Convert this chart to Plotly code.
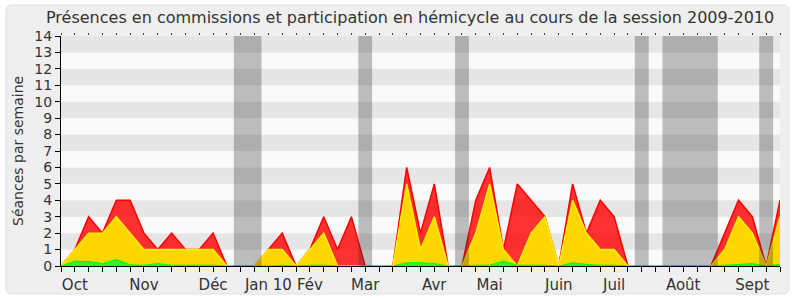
import plotly.graph_objects as go

# ---- data (weekly, session 2009-2010) ----
weeks = list(range(53))
hemicycle_total = [0,1,3,2,4,4,2,1,2,1,1,2,0,0,0,1,2,0,1,3,1,3,0,0,0,6,2,5,0,0,
                   4,6,1,5,4,3,0,5,2,4,3,0,0,0,0,0,0,0,2,4,3,0,4]
commissions = [0,1,2,2,3,2,1,1,1,1,1,1,0,0,0,1,1,0,1,2,0,0,0,0,0,5,1,3,0,0,
               2,5,1,0,2,3,0,4,2,1,1,0,0,0,0,0,0,0,1,3,2,0,3]
interventions = [0,0.3,0.27,0.15,0.4,0.08,0.05,0.15,0.05,0.05,0.05,0.05,0,0,0,0,0.05,0,0.05,0.05,
                 0,0,0,0,0,0.2,0.2,0.15,0,0,0.05,0.05,0.3,0.05,0.05,0.05,0,0.2,0.1,0.05,
                 0.05,0,0,0,0,0,0,0,0.05,0.1,0.15,0,0.1]
month_weeks = [1,6,11,15,18,22,27,31,36,40,45,50]
month_labels = ["Oct","Nov","Déc","Jan 10","Fév","Mar","Avr","Mai","Juin","Juil","Août","Sept"]
holidays = [(12.5,14.5),(21.5,22.5),(28.5,29.5),(41.5,42.5),(43.5,47.5),(50.5,51.5)]

FONT = "DejaVu Sans"
L, R, T, B = 61, 780, 36, 266
W, H = 800, 300

fig = go.Figure()
fig.add_trace(go.Scatter(x=weeks, y=hemicycle_total, mode="lines", fill="tozeroy",
                         line=dict(color="#ff0000", width=1.5), fillcolor="rgba(255,0,0,0.8)",
                         hoverinfo="skip", showlegend=False))
fig.add_trace(go.Scatter(x=weeks, y=commissions, mode="lines", fill="tozeroy",
                         line=dict(color="#ffee00", width=1.5), fillcolor="#ffd700",
                         hoverinfo="skip", showlegend=False))
fig.add_trace(go.Scatter(x=weeks, y=interventions, mode="lines", fill="tozeroy",
                         line=dict(color="#00ff00", width=1), fillcolor="#33ee33",
                         hoverinfo="skip", showlegend=False))
fig.add_trace(go.Scatter(x=[0], y=[0], xaxis="x2", mode="markers", marker=dict(opacity=0),
                         hoverinfo="skip", showlegend=False))

def px2x(p):
    return (p - L) / (R - L)

def py2y(p):
    return (B - p) / (B - T)

# rounded background box
x0, x1, y0, y1, r = 6, 789, 5, 294, 6
path = (f"M {px2x(x0+r)},{py2y(y0)} L {px2x(x1-r)},{py2y(y0)} "
        f"Q {px2x(x1)},{py2y(y0)} {px2x(x1)},{py2y(y0+r)} "
        f"L {px2x(x1)},{py2y(y1-r)} Q {px2x(x1)},{py2y(y1)} {px2x(x1-r)},{py2y(y1)} "
        f"L {px2x(x0+r)},{py2y(y1)} Q {px2x(x0)},{py2y(y1)} {px2x(x0)},{py2y(y1-r)} "
        f"L {px2x(x0)},{py2y(y0+r)} Q {px2x(x0)},{py2y(y0)} {px2x(x0+r)},{py2y(y0)} Z")
shapes = [dict(type="path", path=path, xref="paper", yref="paper", layer="below",
               fillcolor="#efefef", line=dict(color="#e0e0e0", width=1))]
for k in range(14):
    shapes.append(dict(type="rect", xref="paper", yref="y", x0=0, x1=1, y0=k, y1=k + 1,
                       layer="below", line=dict(width=0),
                       fillcolor="#fafafa" if k % 2 == 0 else "#e6e6e6"))
for a, b in holidays:
    shapes.append(dict(type="rect", xref="x", yref="y", x0=a, x1=b, y0=0, y1=14,
                       layer="above", line=dict(width=0), fillcolor="rgba(48,48,48,0.3)"))

fig.update_layout(
    width=W, height=H,
    margin=dict(l=L, r=W - R, t=T, b=H - B, autoexpand=False),
    paper_bgcolor="white", plot_bgcolor="rgba(0,0,0,0)",
    font=dict(family=FONT, size=14, color="#333333"),
    shapes=shapes,
    xaxis=dict(range=[0, 52], showgrid=False, zeroline=False, showline=True, linecolor="black",
               linewidth=1, tickmode="array", tickvals=month_weeks, ticktext=month_labels,
               ticks="outside", ticklen=5, tickcolor="black", automargin=False,
               tickfont=dict(family=FONT, size=15, color="#333333"),
               minor=dict(tickmode="array", tickvals=weeks, ticks="outside", ticklen=5,
                          tickcolor="black", showgrid=False)),
    xaxis2=dict(range=[0, 52], overlaying="x", side="top", showgrid=False, zeroline=False,
                showline=False, tickmode="linear", tick0=0, dtick=1, ticks="outside",
                ticklen=2, tickcolor="#444444", showticklabels=False, automargin=False),
    yaxis=dict(range=[0, 14], showgrid=False, zeroline=False, showline=True, linecolor="black",
               linewidth=1, tickmode="linear", tick0=0, dtick=1, ticks="outside", ticklen=5,
               tickcolor="black", automargin=False,
               tickfont=dict(family=FONT, size=14, color="#333333")),
    annotations=[
        dict(text="Présences en commissions et participation en hémicycle au cours de la session 2009-2010",
             xref="paper", yref="paper", x=px2x(410), y=py2y(17), xanchor="center", yanchor="middle",
             showarrow=False, font=dict(family=FONT, size=16, color="#333333")),
        dict(text="Séances par semaine", xref="paper", yref="paper", x=px2x(18), y=0.5,
             xanchor="center", yanchor="middle", textangle=-90, showarrow=False,
             font=dict(family=FONT, size=14, color="#333333")),
    ],
)

fig.write_html("out.html")
